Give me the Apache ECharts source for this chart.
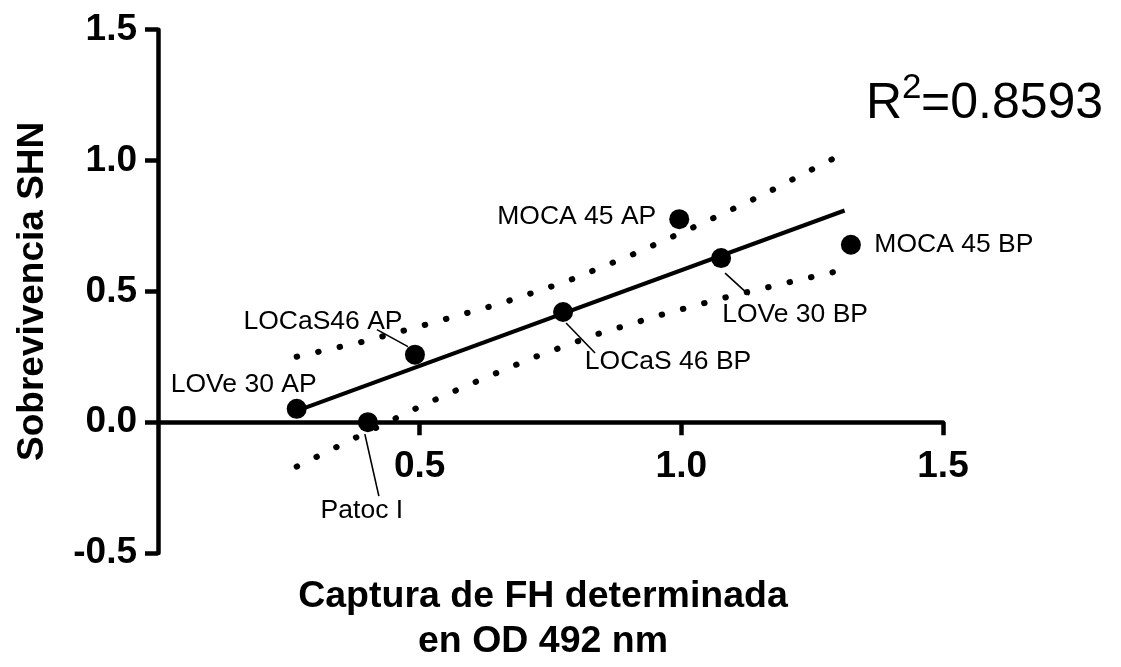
<!DOCTYPE html>
<html>
<head>
<meta charset="utf-8">
<script src="https://cdn.jsdelivr.net/npm/echarts@6/dist/echarts.min.js"></script>
<style>html,body{margin:0;padding:0;background:#fff}#chart{width:1121px;height:667px}</style>
</head>
<body>
<div id="chart"></div>
<script>
// ---- data ----
const cepas = ['LOVe 30 AP', 'Patoc I', 'LOCaS46 AP', 'LOCaS 46 BP', 'MOCA 45 AP', 'LOVe 30 BP', 'MOCA 45 BP'];
const capturaFH = [0.265, 0.401, 0.491, 0.774, 0.996, 1.076, 1.324];
const sobrevivencia = [0.051, 0.0, 0.258, 0.421, 0.776, 0.627, 0.678];

const ajusteX = [0.265, 1.312];
const ajusteY = [0.043, 0.809];

const bandaSupX = [0.265, 0.395, 0.523, 0.654, 0.781, 0.906, 1.030, 1.152, 1.273, 1.312];
const bandaSupY = [0.250, 0.309, 0.379, 0.453, 0.538, 0.640, 0.751, 0.865, 0.990, 1.028];
const bandaInfX = [0.265, 0.384, 0.505, 0.587, 0.712, 0.837, 0.968, 1.098, 1.228, 1.312];
const bandaInfY = [-0.170, -0.053, 0.064, 0.137, 0.243, 0.335, 0.414, 0.484, 0.545, 0.583];

const xTicks = [0, 0.5, 1.0, 1.5];
const yTicks = [-0.5, 0, 0.5, 1.0, 1.5];
const r2Text = '0.8593';
const xTitle = 'Captura de FH determinada\nen OD 492 nm';
const yTitle = 'Sobrevivencia SHN';

// ---- styling (pixel offsets for labels / leader lines) ----
const FONT = "'Liberation Sans', Arial, Helvetica, sans-serif";
const labelOffsets = [[-53, -24], [-6, 89], [-92, -33], [105, 49.5], [-102.5, -2.5], [74, 57], [103, 0]];
const leaderOffsets = [null, [-3, 12, 11, 74], [-38, -25, -7, -8], [3, 11, 32, 41], null, [4, 15, 28, 37], null];

const GRID = {left: 158, right: 178, top: 29.7, bottom: 114};
const PLOT_H = 667 - GRID.top - GRID.bottom;

const zip = (a, b) => a.map((v, i) => [v, b[i]]);
const chart = echarts.init(document.getElementById('chart'), null, {renderer: 'canvas'});

const dotted = {color: '#000', width: 6, type: [0.5, 21.5], cap: 'round'};
const yMin = yTicks[0], yMax = yTicks[yTicks.length - 1];
// x axis sits at y = 0: shift it up from the grid bottom
const xAxisOffset = -PLOT_H * (0 - yMin) / (yMax - yMin);

chart.setOption({
  animation: false,
  backgroundColor: '#fff',
  grid: Object.assign({containLabel: false, outerBoundsMode: 'none'}, GRID),
  xAxis: {
    type: 'value', min: xTicks[0], max: xTicks[xTicks.length - 1], interval: 0.5,
    position: 'bottom', offset: xAxisOffset,
    axisLine: {show: true, onZero: false, lineStyle: {color: '#000', width: 4.5}},
    axisTick: {show: true, length: 13, lineStyle: {color: '#000', width: 4.5}},
    axisLabel: {show: true, showMinLabel: false, margin: 26, color: '#000', fontFamily: FONT, fontWeight: 'bold', fontSize: 37,
      formatter: v => v.toFixed(1)},
    splitLine: {show: false}
  },
  yAxis: {
    type: 'value', min: yMin, max: yMax, interval: 0.5,
    name: yTitle, nameLocation: 'middle', nameGap: 107, nameRotate: 90,
    nameTextStyle: {color: '#000', fontFamily: FONT, fontWeight: 'bold', fontSize: 37},
    axisLine: {show: true, onZero: false, lineStyle: {color: '#000', width: 4.5}},
    axisTick: {show: true, length: 13, lineStyle: {color: '#000', width: 4.5}},
    axisLabel: {show: true, margin: 21, color: '#000', fontFamily: FONT, fontWeight: 'bold', fontSize: 37,
      formatter: v => v.toFixed(1)},
    splitLine: {show: false}
  },
  graphic: [
    {type: 'text', x: 543, y: 574, style: {text: xTitle, fill: '#000', font: "bold 37.5px " + FONT, align: 'center', verticalAlign: 'top', lineHeight: 45}},
    {type: 'text', x: 866, y: 104, style: {text: 'R', fill: '#000', font: "50px " + FONT, align: 'left', verticalAlign: 'middle'}},
    {type: 'text', x: 902, y: 88, style: {text: '2', fill: '#000', font: "35px " + FONT, align: 'left', verticalAlign: 'middle'}},
    {type: 'text', x: 921, y: 104, style: {text: '=' + r2Text, fill: '#000', font: "50px " + FONT, align: 'left', verticalAlign: 'middle'}}
  ],
  series: [
    {type: 'line', data: zip(bandaSupX, bandaSupY), showSymbol: false, symbol: 'none', lineStyle: dotted, z: 2, silent: true},
    {type: 'line', data: zip(bandaInfX, bandaInfY), showSymbol: false, symbol: 'none', lineStyle: dotted, z: 2, silent: true},
    {type: 'line', data: zip(ajusteX, ajusteY), showSymbol: false, symbol: 'none', lineStyle: {color: '#000', width: 4}, z: 3, silent: true},
    {
      type: 'custom', z: 3, silent: true,
      data: zip(capturaFH, sobrevivencia),
      renderItem: function (params, api) {
        const o = leaderOffsets[params.dataIndex];
        if (!o) return null;
        const p = api.coord([api.value(0), api.value(1)]);
        return {type: 'line', shape: {x1: p[0] + o[0], y1: p[1] + o[1], x2: p[0] + o[2], y2: p[1] + o[3]},
          style: {stroke: '#000', lineWidth: 1.6}};
      }
    },
    {
      type: 'scatter', z: 4, symbol: 'circle', symbolSize: 20,
      itemStyle: {color: '#000', opacity: 1},
      data: cepas.map((n, i) => ({name: n, value: [capturaFH[i], sobrevivencia[i]], label: {offset: labelOffsets[i]}})),
      label: {show: true, position: 'inside', formatter: '{b}', color: '#000', opacity: 1, fontFamily: FONT, fontSize: 26.5}
    }
  ]
});
</script>
</body>
</html>
